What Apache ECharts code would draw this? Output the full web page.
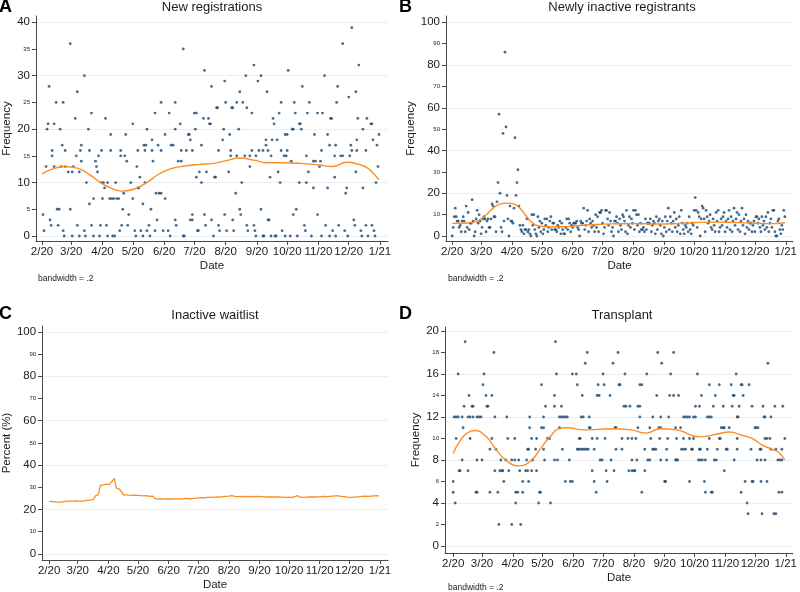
<!DOCTYPE html>
<html>
<head>
<meta charset="utf-8">
<script src="https://cdn.jsdelivr.net/npm/echarts@6/dist/echarts.min.js"></script>
<style>
  html, body { margin: 0; background: #fff; }
  #chart { width: 800px; height: 592px; }
</style>
</head>
<body>
<div id="chart"></div>
<script>
// x axis: day index from 1 Feb 2020
const monthStarts = [0, 29, 60, 90, 121, 151, 182, 213, 243, 274, 304, 335];
const monthLabels = ['2/20', '3/20', '4/20', '5/20', '6/20', '7/20', '8/20', '9/20', '10/20', '11/20', '12/20', '1/21'];

const regTicks = [0, 5, 10, 15, 20, 25, 30, 35, 40];
const regGrid = [0, 10, 20, 30, 40];
const pctTicks = [0, 10, 20, 30, 40, 50, 60, 70, 80, 90, 100];
const pctGrid = [0, 20, 40, 60, 80, 100];
const txTicks = [0, 2, 4, 6, 8, 10, 12, 14, 16, 18, 20];
const txGrid = [0, 4, 8, 12, 16, 20];

// A: new registrations per day [day, count]
const registrations = [
  [5,20],[6,21],[7,28],[12,21],[14,25],[18,20],[20,17],[21,25],[28,36],[33,22],[35,27],[39,17],[42,30],[46,20],[49,23],
  [63,22],[68,19],[83,19],[90,21],[101,17],[103,17],[104,20],[109,18],[112,23],[115,17],[118,25],[122,19],[126,23],
  [128,17],[130,17],[132,20],[132,25],[137,21],[140,35],[145,19],[146,19],[147,18],[151,23],[152,20],[153,23],[158,17],
  [160,22],[161,31],[165,22],[166,21],[167,21],[168,28],[173,24],[174,24],[179,18],[180,20],[181,29],[182,25],[186,19],
  [188,24],[189,24],[193,25],[195,20],[196,27],[199,25],[202,30],[203,24],[208,23],[210,32],[214,29],[217,30],[222,17],
  [222,18],[223,27],[228,18],[229,22],[230,21],[233,18],[235,23],[237,25],[241,19],[243,19],[244,31],[248,20],[249,20],
  [250,25],[251,23],[255,21],[256,21],[257,20],[258,28],[263,23],[265,25],[270,19],[273,23],[278,23],[280,30],[283,19],
  [285,17],[286,22],[287,22],[291,17],[292,25],[293,28],[298,36],[304,26],[306,17],[307,39],[311,27],[312,18],[313,22],
  [314,32],[318,20],[322,22],[326,21],[327,21],[328,18],[332,17],[334,19],
  [10,16],[23,16],[38,16],[47,16],[59,16],[68,16],[78,16],[95,16],[102,16],[109,16],[118,16],[138,16],[143,16],[149,16],
  [175,16],[187,16],[208,16],[215,16],[219,16],[224,16],[237,16],[243,16],[277,16],[307,16],[312,16],[321,16],
  [201,15],[206,15],[212,15],[227,15],[262,15],[290,15],[296,15],[305,15],
  [1,4],[2,1],[4,13],[8,3],[9,2],[10,15],[12,13],[15,5],[16,2],[17,5],[19,13],[21,1],[22,0],[23,13],[26,12],[28,5],
  [30,12],[30,0],[31,13],[34,15],[35,2],[37,12],[37,0],[39,14],[42,1],[43,0],[44,10],[47,6],[49,2],[51,7],[51,0],
  [53,14],[54,13],[55,12],[56,15],[57,0],[58,2],[59,10],[60,7],[61,10],[62,9],[64,2],[65,10],[65,0],[67,7],[69,7],
  [70,0],[72,0],[71,7],[73,10],[74,7],[76,7],[77,1],[78,15],[79,2],[80,5],[81,8],[82,15],[84,14],[85,2],[86,4],
  [88,10],[90,7],[92,1],[93,0],[94,13],[95,9],[96,9],[97,11],[98,1],[100,6],[100,0],[102,10],[104,1],[106,2],[107,0],
  [108,5],[110,14],[112,1],[113,8],[114,3],[116,8],[118,8],[120,1],[122,7],[125,1],[127,0],[132,3],[133,2],[135,14],
  [138,14],[140,0],[141,0],[147,3],[149,3],[149,4],[153,11],[154,1],[155,1],[156,12],[158,10],[161,4],[162,2],[163,12],
  [168,3],[170,0],[171,11],[172,11],[175,2],[176,1],[181,4],[183,1],[185,12],[187,15],[189,3],[190,1],[192,8],[193,15],
  [196,5],[197,4],[198,10],[203,2],[204,1],[206,13],[210,2],[211,1],[212,0],[217,5],[219,0],[220,0],[224,3],[225,3],
  [226,11],[227,0],[231,0],[232,0],[234,12],[236,10],[238,1],[240,15],[242,15],[241,0],[246,0],[247,14],[249,4],[252,5],
  [253,0],[255,10],[260,2],[261,1],[262,10],[264,12],[267,0],[269,9],[269,14],[271,14],[273,4],[275,13],[276,14],[277,0],
  [281,2],[283,9],[285,0],[288,1],[290,11],[291,0],[294,2],[298,15],[300,1],[301,8],[302,9],[303,0],[309,3],[310,2],
  [311,12],[316,1],[318,9],[317,0],[321,2],[323,0],[327,2],[329,1],[330,0],[331,10],[333,13]
];
const registrationsFit = [
  [0,11.6],[10,12.5],[22,13.0],[35,12.7],[47,11.5],[58,10.0],[68,9.0],[79,8.4],[90,8.7],[103,9.9],[116,11.6],[128,12.6],
  [142,13.1],[156,13.4],[170,13.6],[183,14.1],[196,14.6],[210,14.2],[224,13.7],[240,13.7],[256,13.6],[274,13.3],
  [288,13.0],[302,13.8],[314,13.4],[322,12.8],[328,11.8],[334,10.5]
];

// B: newly inactive registrants, one value per day
const inactive = [
  0,4,9,13,9,7,7,4,5,2,7,9,7,2,14,4,11,3,6,6,17,7,0,2,8,12,6,10,7,1,
  4,8,9,8,2,7,8,4,4,8,15,14,9,9,2,16,25,57,20,4,2,48,7,86,51,19,8,0,14,7,
  7,6,13,46,19,25,31,14,5,3,2,5,1,3,3,8,2,3,1,0,10,5,10,3,1,0,9,4,7,2,
  6,1,3,8,5,8,2,4,7,9,3,6,6,3,3,2,5,4,7,1,6,3,1,1,4,8,3,8,6,2,
  5,4,6,6,6,7,4,3,0,7,6,6,13,3,5,7,12,2,8,6,4,7,5,2,10,4,9,2,11,11,
  12,6,1,4,12,12,8,5,11,7,2,4,0,7,7,9,6,2,8,5,3,10,9,7,2,12,1,5,9,4,
  8,6,12,3,12,10,5,10,2,6,3,3,4,2,8,3,6,6,6,8,2,5,7,6,1,9,3,7,8,5,
  1,7,0,4,9,2,7,13,3,9,6,2,7,11,4,8,2,5,9,1,12,6,3,1,5,4,6,2,9,3,
  1,6,5,12,18,12,4,11,9,0,8,14,13,8,2,12,9,6,7,10,4,3,8,5,2,11,7,12,2,4,
  8,5,9,11,2,7,4,8,12,3,9,2,7,13,5,8,11,3,10,2,7,13,5,8,1,10,4,7,3,6,
  6,2,5,7,2,9,9,6,8,4,2,9,5,7,3,9,4,11,2,6,8,4,12,12,2,0,0,7,8,3,
  1,5,3,12,9
];
const inactiveFit = [
  [0,5.9],[15,6.1],[25,7.0],[33,9.5],[40,12.5],[47,14.8],[55,15.4],[62,15.0],[68,13.0],[74,9.5],[80,6.3],[87,4.7],
  [97,4.3],[110,4.3],[125,4.8],[145,5.4],[165,5.7],[185,5.8],[205,5.6],[225,5.8],[245,6.3],[265,6.5],[285,6.3],
  [305,6.0],[320,5.8],[334,6.2]
];

// C: share of waitlist inactive (%), one value per day
const waitlistPct = [
  23.6,23.6,23.5,23.5,23.4,23.5,23.4,23.4,23.3,23.3,23.4,23.3,23.3,23.4,23.5,23.5,23.6,23.6,23.7,23.7,23.6,23.7,23.8,23.8,23.7,23.8,23.9,23.9,23.8,23.8,
  23.7,23.7,23.8,23.7,23.8,23.8,23.9,24.0,24.0,24.1,24.0,24.1,24.2,24.3,24.4,24.5,24.6,26.1,26.4,26.3,26.8,28.9,30.9,31.1,31.2,31.1,31.3,31.2,31.4,31.3,
  31.2,31.3,31.1,31.9,32.8,33.4,34.0,31.8,29.6,29.3,29.1,29.2,29.0,28.8,27.6,26.6,26.4,26.5,26.6,26.4,26.3,26.4,26.5,26.4,26.3,26.2,26.3,26.4,26.3,26.2,
  26.3,26.2,26.1,26.2,26.3,26.2,26.1,26.0,26.1,26.2,26.1,26.0,25.9,26.0,26.1,26.0,25.6,25.0,24.6,24.5,24.6,24.5,24.6,24.7,24.6,24.5,24.6,24.7,24.8,24.7,
  24.6,24.7,24.8,24.7,24.6,24.7,24.8,24.9,24.8,24.7,24.8,24.9,24.8,24.7,24.6,24.7,24.8,24.9,24.8,24.9,25.0,24.9,24.8,24.7,24.8,24.9,25.0,25.1,25.0,25.1,
  25.2,25.1,25.2,25.3,25.2,25.3,25.4,25.3,25.2,25.3,25.4,25.5,25.4,25.3,25.4,25.5,25.6,25.5,25.4,25.5,25.6,25.7,25.6,25.5,25.6,25.7,25.8,25.9,25.8,25.9,
  26.0,26.1,26.0,25.9,26.1,26.2,26.1,26.0,25.9,25.8,25.9,25.8,25.7,25.8,25.9,25.8,25.7,25.8,25.9,26.0,25.9,25.8,25.9,25.8,25.7,25.8,25.9,25.8,25.7,25.8,
  25.9,26.0,25.9,25.8,25.9,25.8,25.7,25.6,25.7,25.8,25.7,25.6,25.7,25.8,25.7,25.6,25.7,25.6,25.7,25.8,25.7,25.6,25.5,25.6,25.7,25.6,25.5,25.6,25.5,25.4,
  25.5,25.4,25.5,25.6,25.5,25.4,25.5,25.4,25.6,25.9,26.1,26.2,26.0,25.7,25.5,25.4,25.3,25.4,25.5,25.4,25.5,25.6,25.7,25.6,25.5,25.6,25.7,25.6,25.5,25.6,
  25.7,25.6,25.7,25.8,25.7,25.8,25.7,25.8,25.9,25.8,25.7,25.8,25.9,25.8,25.9,26.0,25.9,26.0,26.1,26.2,26.1,26.3,26.2,26.1,26.2,26.1,25.9,25.8,25.9,25.8,
  25.7,25.6,25.5,25.6,25.5,25.4,25.5,25.4,25.5,25.4,25.4,25.5,25.6,25.7,25.8,25.7,25.8,25.9,25.8,25.9,26.0,25.9,25.8,25.9,26.0,26.1,26.0,25.9,26.0,26.1,
  26.0,26.1,26.2,26.1,26.0
];

// D: transplants per day, grouped as [count, days with that count]
const transplantRows = [
  [19, [12,103]],
  [18, [41,135,166,206,222]],
  [17, [133,161,210,317]],
  [16, [5,31,104,120,124,151,173,195,219,246,285]],
  [15, [30,89,125,146,152,167,168,188,190,258,268,280,290,291,298]],
  [14, [16,33,39,102,130,145,147,158,205,218,222,227,250,264,282,283,292]],
  [13, [11,19,20,34,35,93,102,109,172,174,178,186,188,244,248,262,272,281,288,301,312,324,332]],
  [12, [1,3,5,9,15,17,20,24,26,28,42,54,77,91,107,109,111,113,115,129,131,137,188,201,209,217,232,234,236,238,242,244,256,258,260,286,287,313,314,320]],
  [11, [10,77,89,91,107,137,138,163,164,186,198,207,209,224,229,270,272,273,278,304,305,307]],
  [10, [3,17,39,55,62,79,84,95,97,127,128,140,145,153,170,176,180,184,199,208,216,225,232,238,242,258,268,269,286,314,316,319,334]],
  [9, [37,43,75,76,83,91,110,125,126,128,130,132,134,136,142,164,170,193,201,202,204,215,230,232,234,240,241,248,249,256,266,275,276,286,300,309,310,320,325,331]],
  [8, [9,24,29,48,53,59,62,66,74,80,92,102,105,117,148,150,159,180,185,196,198,209,215,224,225,226,247,249,251,254,263,265,283,306,310,314,327,329,331]],
  [7, [6,7,15,42,47,49,50,56,67,73,75,79,84,140,154,162,177,180,182,183,193,273]],
  [6, [0,51,70,76,113,118,120,142,155,213,214,238,253,294,301,302,310,316]],
  [5, [0,23,24,37,45,63,65,70,87,88,144,190,254,260,261,290,328,331]],
  [4, [2,63,86,98,296]],
  [3, [297,311,323,325]],
  [2, [46,59,68]]
];
const transplantsFit = [
  [0,8.6],[7,9.8],[14,10.5],[21,10.75],[33,10.2],[43,9.0],[53,8.0],[66,7.45],[79,8.0],[89,9.2],[98,10.2],[106,10.9],
  [115,11.0],[132,10.8],[159,10.9],[179,10.8],[194,10.5],[209,10.9],[225,10.8],[248,10.15],[265,10.4],[278,10.6],
  [291,10.3],[301,10.0],[311,9.4],[321,9.0],[328,8.7],[334,8.0]
];

const transplants = transplantRows.flatMap(([v, days]) => days.map(d => [d, v]));

const font = 'Liberation Sans, Arial, sans-serif';
const ink = '#1b1b1b';
const axisColor = '#4a4a4a';
const dotColor = '#1a476f';
const fitColor = '#fd8d23';

// plotting boxes, in pixels, with the data range each one spans
const panels = [
  { left: 36, top: 16, width: 352, height: 225, xMin: -5.95, xMax: 342.9, yMin: -0.94, yMax: 41.18,
    ticks: regTicks, grid: regGrid, major: 10, yName: 'Frequency', nameGap: 22 },
  { left: 446, top: 16, width: 352, height: 225, xMin: -6.24, xMax: 342.3, yMin: -2.34, yMax: 102.95,
    ticks: pctTicks, grid: pctGrid, major: 20, yName: 'Frequency', nameGap: 28 },
  { left: 42, top: 326, width: 346, height: 238, xMin: -7.09, xMax: 343.1, yMin: -2.79, yMax: 102.66,
    ticks: pctTicks, grid: pctGrid, major: 20, yName: 'Percent (%)', nameGap: 28 },
  { left: 445, top: 327, width: 353, height: 226, xMin: -8.24, xMax: 342.3, yMin: -0.65, yMax: 20.37,
    ticks: txTicks, grid: txGrid, major: 4, yName: 'Frequency', nameGap: 22 }
];

const xAxes = panels.map((p, i) => ({
  type: 'value', gridIndex: i, min: p.xMin, max: p.xMax,
  axisLine: { show: true, onZero: false, lineStyle: { color: axisColor, width: 1 } },
  axisTick: { show: true, length: 4, customValues: monthStarts, lineStyle: { color: axisColor } },
  axisLabel: {
    customValues: monthStarts, margin: 5, fontSize: 11.5, color: ink, fontFamily: font,
    formatter: v => monthLabels[monthStarts.indexOf(v)]
  },
  splitLine: { show: false },
  name: 'Date', nameLocation: 'middle', nameGap: 19,
  nameTextStyle: { fontSize: 11.5, color: ink, fontFamily: font }
}));

const yAxes = panels.map((p, i) => ({
  type: 'value', gridIndex: i, min: p.yMin, max: p.yMax,
  axisLine: { show: true, onZero: false, lineStyle: { color: axisColor, width: 1 } },
  axisTick: { show: true, length: 4, customValues: p.ticks, lineStyle: { color: axisColor } },
  axisLabel: {
    customValues: p.ticks, margin: 6, color: ink, fontFamily: font,
    formatter: v => (v % p.major === 0 ? '{big|' + v + '}' : '{small|' + v + '}'),
    rich: {
      big: { fontSize: 11.5, color: ink, fontFamily: font },
      small: { fontSize: 6, color: ink, fontFamily: font }
    }
  },
  splitLine: { show: false },
  name: p.yName, nameLocation: 'middle', nameGap: p.nameGap,
  nameTextStyle: { fontSize: 11.5, color: ink, fontFamily: font }
}));

// light horizontal gridlines, kept under the marks
function gridLines(vals) {
  return {
    silent: true, z: 0, symbol: ['none', 'none'], label: { show: false },
    lineStyle: { color: '#eaeef0', width: 1, type: 'solid' },
    emphasis: { disabled: true },
    data: vals.map(v => ({ yAxis: v }))
  };
}

function dots(i, data) {
  return {
    type: 'scatter', xAxisIndex: i, yAxisIndex: i, data: data,
    symbol: 'circle', symbolSize: 2.8, itemStyle: { color: dotColor },
    markLine: gridLines(panels[i].grid), z: 2
  };
}

function fit(i, data, smooth) {
  return {
    type: 'line', xAxisIndex: i, yAxisIndex: i, data: data, smooth: smooth,
    showSymbol: false, lineStyle: { color: fitColor, width: 1.4 }, z: 3
  };
}

const titleStyle = { fontSize: 13, fontWeight: 'normal', color: ink, fontFamily: font };
const letterStyle = { fontSize: 18, fontWeight: 'bold', color: '#000', fontFamily: font };

const option = {
  animation: false,
  backgroundColor: '#fff',
  title: [
    { text: 'A', left: -1, top: -2, padding: 0, textStyle: letterStyle },
    { text: 'B', left: 399, top: -2, padding: 0, textStyle: letterStyle },
    { text: 'C', left: -1, top: 305, padding: 0, textStyle: letterStyle },
    { text: 'D', left: 399, top: 305, padding: 0, textStyle: letterStyle },
    { text: 'New registrations', left: 212, top: 1, padding: 0, textAlign: 'center', textStyle: titleStyle },
    { text: 'Newly inactive registrants', left: 622, top: 1, padding: 0, textAlign: 'center', textStyle: titleStyle },
    { text: 'Inactive waitlist', left: 215, top: 309, padding: 0, textAlign: 'center', textStyle: titleStyle },
    { text: 'Transplant', left: 622, top: 309, padding: 0, textAlign: 'center', textStyle: titleStyle }
  ],
  graphic: [
    { type: 'text', left: 38, top: 274, style: { text: 'bandwidth = .2', fontSize: 8.5, fill: ink, fontFamily: font } },
    { type: 'text', left: 448, top: 274, style: { text: 'bandwidth = .2', fontSize: 8.5, fill: ink, fontFamily: font } },
    { type: 'text', left: 448, top: 583, style: { text: 'bandwidth = .2', fontSize: 8.5, fill: ink, fontFamily: font } }
  ],
  grid: panels.map(p => ({ left: p.left, top: p.top, width: p.width, height: p.height, containLabel: false })),
  xAxis: xAxes,
  yAxis: yAxes,
  series: [
    dots(0, registrations),
    fit(0, registrationsFit, true),
    dots(1, inactive.map((v, d) => [d, v])),
    fit(1, inactiveFit, true),
    {
      type: 'line', xAxisIndex: 2, yAxisIndex: 2, data: waitlistPct.map((v, d) => [d, v]),
      showSymbol: false, lineStyle: { color: fitColor, width: 1.3 }, markLine: gridLines(pctGrid), z: 3
    },
    dots(3, transplants),
    fit(3, transplantsFit, true)
  ]
};

const chart = echarts.init(document.getElementById('chart'), null, { renderer: 'canvas' });
chart.setOption(option);
</script>
</body>
</html>
